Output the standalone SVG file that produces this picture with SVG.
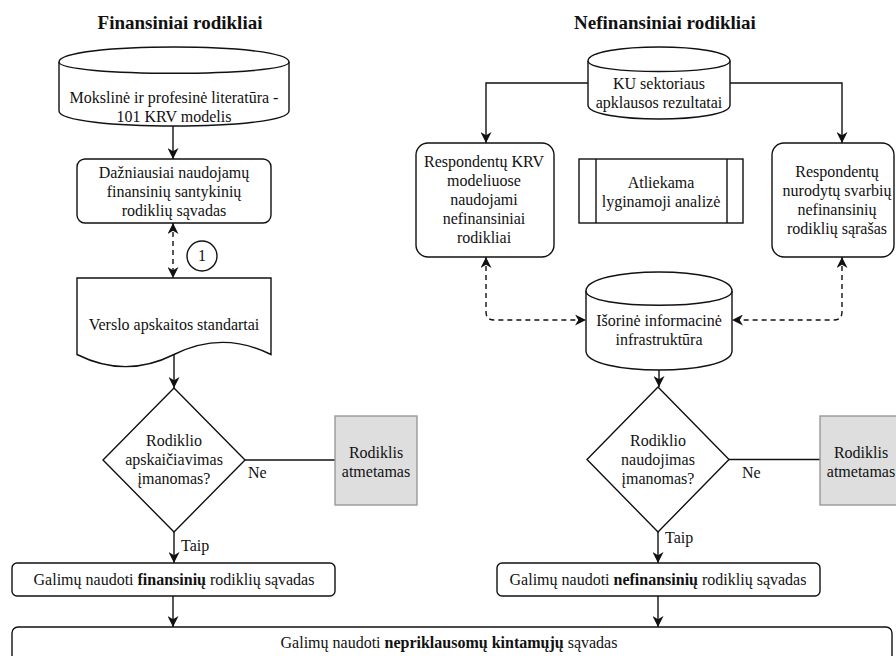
<svg xmlns="http://www.w3.org/2000/svg" width="896" height="656" viewBox="0 0 896 656">
<style>
  text { font-family: "Liberation Serif", "Times New Roman", serif; font-size: 16px; fill: #111; text-anchor: middle; }
  .title { font-size: 19px; font-weight: bold; }
  .b { font-weight: bold; }
  .shape { fill: #fff; stroke: #111; stroke-width: 1.4; }
  .gray { fill: #dedede; stroke: #999; stroke-width: 1.4; }
  .conn { fill: none; stroke: #111; stroke-width: 1.4; }
  .dash { stroke-dasharray: 5 4; }
  .lbl { text-anchor: start; }
</style>
<defs>
  <marker id="arr" viewBox="0 0 10 10" refX="10" refY="5" markerWidth="11" markerHeight="11" markerUnits="userSpaceOnUse" orient="auto-start-reverse">
    <path d="M0,0 L10,5 L0,10 L3,5 Z" fill="#111"/>
  </marker>
</defs>

<text class="title" x="180" y="29">Finansiniai rodikliai</text>
<text class="title" x="665" y="29">Nefinansiniai rodikliai</text>

<g id="connectors">
  <path class="conn" d="M173,126 L173,159" marker-end="url(#arr)"/>
  <path class="conn dash" d="M173,223 L173,278" marker-start="url(#arr)" marker-end="url(#arr)"/>
  <path class="conn" d="M174,355 L174,388" marker-end="url(#arr)"/>
  <path class="conn" d="M245,460 L335,460"/>
  <path class="conn" d="M174,532 L174,563" marker-end="url(#arr)"/>
  <path class="conn" d="M173,596 L173,627" marker-end="url(#arr)"/>
  <path class="conn" d="M588,83 L486,83 L486,143" marker-end="url(#arr)"/>
  <path class="conn" d="M730,83 L842,83 L842,143" marker-end="url(#arr)"/>
  <path class="conn dash" d="M486,257 L486,312 Q486,320 494,320 L586,320" marker-start="url(#arr)" marker-end="url(#arr)"/>
  <path class="conn dash" d="M842,257 L842,312 Q842,320 834,320 L732,320" marker-start="url(#arr)" marker-end="url(#arr)"/>
  <path class="conn" d="M659,370 L659,387" marker-end="url(#arr)"/>
  <path class="conn" d="M729,459.5 L820,459.5"/>
  <path class="conn" d="M658,532 L658,563" marker-end="url(#arr)"/>
  <path class="conn" d="M658,596 L658,627" marker-end="url(#arr)"/>
  <text class="lbl" x="248" y="478">Ne</text>
  <text class="lbl" x="181" y="551">Taip</text>
  <text class="lbl" x="742" y="478">Ne</text>
  <text class="lbl" x="665" y="543">Taip</text>
</g>

<g id="lit">
  <path class="shape" d="M59,62 C59,42 289,42 289,62 L289,111 C289,131 59,131 59,111 Z"/>
  <path class="conn" d="M59,62 C59,77 289,77 289,62"/>
  <text x="174" y="103">Mokslinė ir profesinė literatūra -</text>
  <text x="174" y="122">101 KRV modelis</text>
</g>

<g id="dazniausiai">
  <rect class="shape" x="77" y="159" width="194" height="64" rx="8"/>
  <text x="174" y="178">Dažniausiai naudojamų</text>
  <text x="174" y="197">finansinių santykinių</text>
  <text x="174" y="216">rodiklių sąvadas</text>
</g>

<g id="circle1">
  <circle class="shape" cx="202" cy="256" r="15"/>
  <text x="202" y="261">1</text>
</g>

<g id="verslo">
  <path class="shape" d="M77,278 L271,278 L271,354.5 Q222.5,330.2 174,354.5 Q125.5,378.8 77,354.5 Z"/>
  <text x="174" y="330">Verslo apskaitos standartai</text>
</g>

<g id="dec1">
  <polygon class="shape" points="174,388 245,460 174,532 103,460"/>
  <text x="174" y="446">Rodiklio</text>
  <text x="174" y="465">apskaičiavimas</text>
  <text x="174" y="484">įmanomas?</text>
</g>

<g id="rej1">
  <rect class="gray" x="335" y="416" width="82" height="89"/>
  <text x="376" y="458">Rodiklis</text>
  <text x="376" y="477">atmetamas</text>
</g>

<g id="fin">
  <rect class="shape" x="12" y="563" width="323" height="33" rx="5"/>
  <text x="174" y="585">Galimų naudoti <tspan class="b">finansinių</tspan> rodiklių sąvadas</text>
</g>

<g id="ku">
  <path class="shape" d="M588,61 C588,42.3 730,42.3 730,61 L730,105 C730,123.7 588,123.7 588,105 Z"/>
  <path class="conn" d="M588,61 C588,75 730,75 730,61"/>
  <text x="659" y="89">KU sektoriaus</text>
  <text x="659" y="108">apklausos rezultatai</text>
</g>

<g id="resp1">
  <rect class="shape" x="416" y="143" width="138" height="114" rx="12"/>
  <text x="484" y="167">Respondentų KRV</text>
  <text x="484" y="186">modeliuose</text>
  <text x="484" y="205">naudojami</text>
  <text x="484" y="224">nefinansiniai</text>
  <text x="484" y="243">rodikliai</text>
</g>

<g id="analize">
  <rect class="shape" x="579" y="159" width="164" height="64"/>
  <line class="conn" x1="596" y1="159" x2="596" y2="223"/>
  <line class="conn" x1="727" y1="159" x2="727" y2="223"/>
  <text x="661" y="188">Atliekama</text>
  <text x="661" y="207">lyginamoji analizė</text>
</g>

<g id="resp2">
  <rect class="shape" x="772" y="143" width="122" height="114" rx="12"/>
  <text x="837" y="177">Respondentų</text>
  <text x="837" y="196">nurodytų svarbių</text>
  <text x="837" y="215">nefinansinių</text>
  <text x="837" y="234">rodiklių sąrašas</text>
</g>

<g id="isorine">
  <path class="shape" d="M586,291 C586,265.7 732,265.7 732,291 L732,351 C732,376.3 586,376.3 586,351 Z"/>
  <path class="conn" d="M586,291 C586,310 732,310 732,291"/>
  <text x="659" y="326">Išorinė informacinė</text>
  <text x="659" y="345">infrastruktūra</text>
</g>

<g id="dec2">
  <polygon class="shape" points="658,387 729,459.5 658,532 587,459.5"/>
  <text x="658" y="446">Rodiklio</text>
  <text x="658" y="465">naudojimas</text>
  <text x="658" y="484">įmanomas?</text>
</g>

<g id="rej2">
  <rect class="gray" x="820" y="416" width="82" height="89"/>
  <text x="861" y="458">Rodiklis</text>
  <text x="861" y="477">atmetamas</text>
</g>

<g id="nefin">
  <rect class="shape" x="497" y="563" width="323" height="33" rx="5"/>
  <text x="658" y="585">Galimų naudoti <tspan class="b">nefinansinių</tspan> rodiklių sąvadas</text>
</g>

<g id="bendras">
  <rect class="shape" x="12" y="627" width="880" height="50" rx="6"/>
  <text x="449" y="648">Galimų naudoti <tspan class="b">nepriklausomų kintamųjų</tspan> sąvadas</text>
</g>
</svg>
